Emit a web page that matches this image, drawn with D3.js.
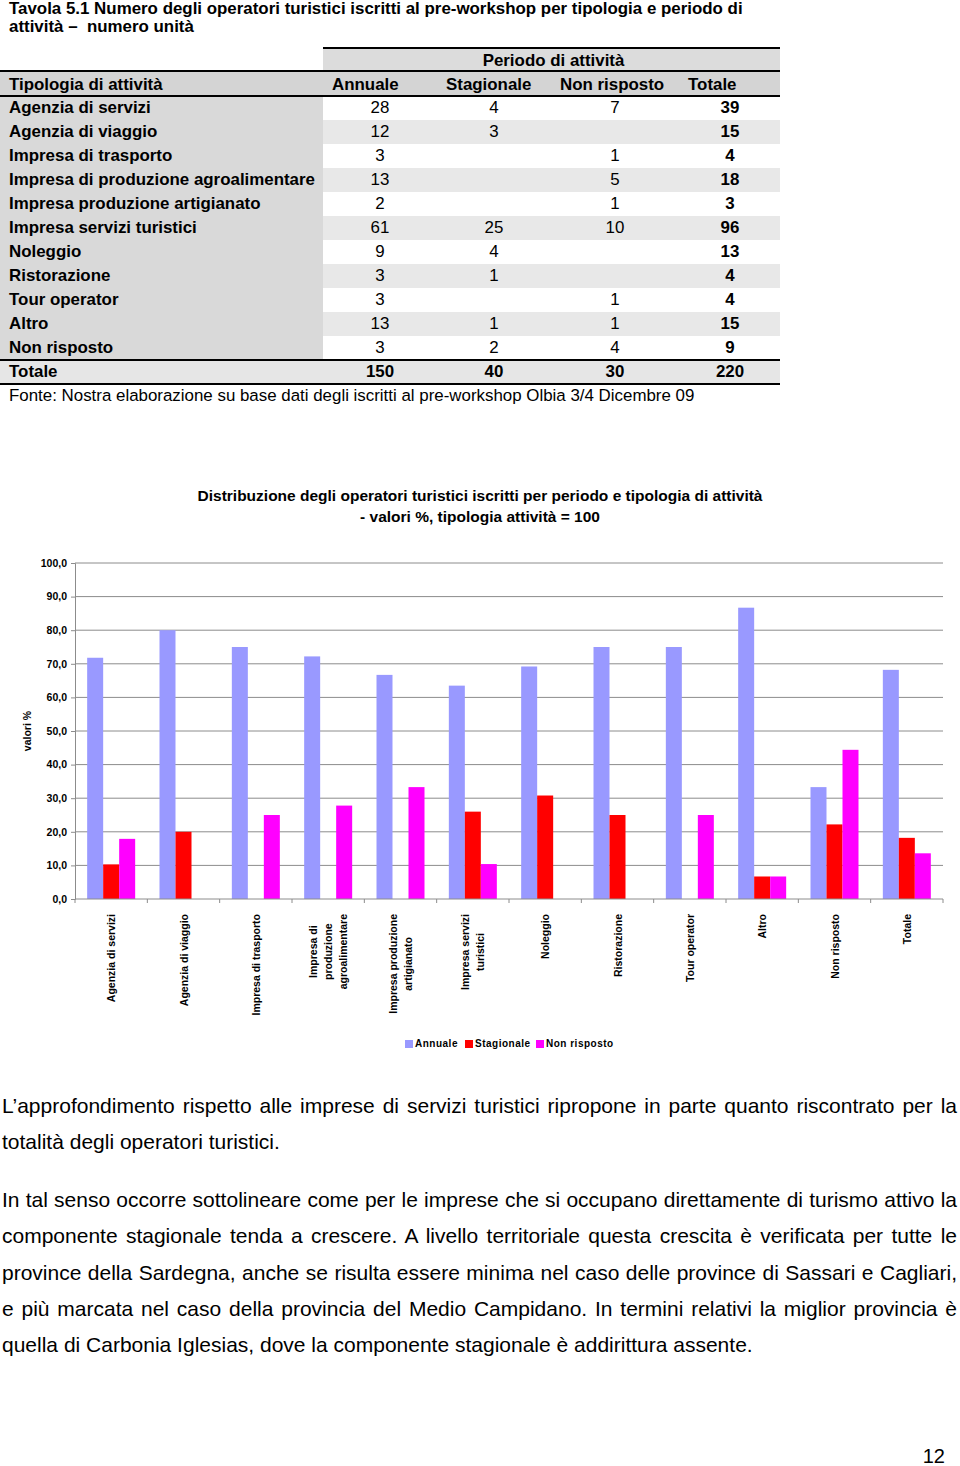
<!DOCTYPE html>
<html><head><meta charset="utf-8">
<script src="https://cdn.jsdelivr.net/npm/d3@7"></script>
<style>
html,body{margin:0;padding:0;background:#fff;}
svg{display:block;font-family:"Liberation Sans",Arial,sans-serif;}
</style></head>
<body>
<svg id="page" width="960" height="1466"></svg>
<script>
// ---------- Table data ----------
const tableTitle1 = "Tavola 5.1 Numero degli operatori turistici iscritti al pre-workshop per tipologia e periodo di";
const tableTitle2 = "attività –  numero unità";
const tableColumns = ["Annuale", "Stagionale", "Non risposto", "Totale"];
const tableCategories = ["Agenzia di servizi","Agenzia di viaggio","Impresa di trasporto","Impresa di produzione agroalimentare","Impresa produzione artigianato","Impresa servizi turistici","Noleggio","Ristorazione","Tour operator","Altro","Non risposto"];
const tabAnnuale = [28,12,3,13,2,61,9,3,3,13,3];
const tabStagionale = [4,3,null,null,null,25,4,1,null,1,2];
const tabNonRisposto = [7,null,1,5,1,10,null,null,1,1,4];
const tabTotale = [39,15,4,18,3,96,13,4,4,15,9];
const tabTotaliRiga = [150,40,30,220];
const fonte = "Fonte: Nostra elaborazione su base dati degli iscritti al pre-workshop Olbia 3/4 Dicembre 09";

// ---------- Chart data (valori %) ----------
const chartTitle1 = "Distribuzione degli operatori turistici iscritti per periodo e tipologia di attività";
const chartTitle2 = "- valori %, tipologia attività = 100";
const chartCategories = [["Agenzia di servizi"],["Agenzia di viaggio"],["Impresa di trasporto"],["Impresa di","produzione","agroalimentare"],["Impresa produzione","artigianato"],["Impresa servizi","turistici"],["Noleggio"],["Ristorazione"],["Tour operator"],["Altro"],["Non risposto"],["Totale"]];
const seriesNames = ["Annuale","Stagionale","Non risposto"];
const pctAnnuale = [71.8,80.0,75.0,72.2,66.7,63.5,69.2,75.0,75.0,86.7,33.3,68.2];
const pctStagionale = [10.3,20.0,0,0,0,26.0,30.8,25.0,0,6.7,22.2,18.2];
const pctNonRisposto = [17.9,0,25.0,27.8,33.3,10.4,0,0,25.0,6.7,44.4,13.6];
const yTicks = [0,10,20,30,40,50,60,70,80,90,100];
const seriesColors = ["#9999ff","#ff0000","#ff00ff"];

// ---------- Text ----------
const para1 = ["L’approfondimento rispetto alle imprese di servizi turistici ripropone in parte quanto riscontrato per la","totalità degli operatori turistici."];
const para2 = ["In tal senso occorre sottolineare come per le imprese che si occupano direttamente di turismo attivo la","componente stagionale tenda a crescere. A livello territoriale questa crescita è verificata per tutte le","province della Sardegna, anche se risulta essere minima nel caso delle province di Sassari e Cagliari,","e più marcata nel caso della provincia del Medio Campidano. In termini relativi la miglior provincia è","quella di Carbonia Iglesias, dove la componente stagionale è addirittura assente."];
const pageNumber = "12";

const svg = d3.select("#page");

// ===== Title =====
const tg = svg.append("g").attr("font-weight","bold").attr("font-size",16.9).attr("fill","#000");
tg.append("text").attr("x",9).attr("y",14).text(tableTitle1);
tg.append("text").attr("x",9).attr("y",32).attr("xml:space","preserve").text(tableTitle2);

// ===== Table =====
const FS = 16.9;
const tbl = svg.append("g");
const rowH = 24, firstRowTop = 96, tableRight = 780, labelColRight = 323;
const nRows = tableCategories.length;
const colX = d3.scaleOrdinal().domain(tableColumns).range([380,494,615,730]);
const headX = [332,446,560,688];
// backgrounds
tbl.append("rect").attr("x",labelColRight).attr("y",48).attr("width",tableRight-labelColRight).attr("height",23).attr("fill","#dcdcdc");
tbl.append("rect").attr("x",0).attr("y",71).attr("width",tableRight).attr("height",25).attr("fill","#d4d4d4");
tableCategories.forEach((c,i)=>{
  tbl.append("rect").attr("x",labelColRight).attr("y",firstRowTop+i*rowH).attr("width",tableRight-labelColRight).attr("height",rowH)
    .attr("fill", i%2===1 ? "#e8e8e8" : "#ffffff");
});
tbl.append("rect").attr("x",0).attr("y",firstRowTop).attr("width",labelColRight).attr("height",nRows*rowH).attr("fill","#d9d9d9");
const totTop = firstRowTop + nRows*rowH;
tbl.append("rect").attr("x",0).attr("y",totTop).attr("width",tableRight).attr("height",rowH).attr("fill","#e6e6e6");
// lines
const hl = (y,x1,x2)=>tbl.append("line").attr("x1",x1).attr("x2",x2).attr("y1",y).attr("y2",y).attr("stroke","#000").attr("stroke-width",2);
hl(48,labelColRight,tableRight); hl(71,0,tableRight); hl(96,0,tableRight); hl(totTop,0,tableRight); hl(totTop+rowH,0,tableRight);
// header texts
tbl.append("text").attr("x",(labelColRight+tableRight)/2+2).attr("y",66).attr("text-anchor","middle")
  .attr("font-weight","bold").attr("font-size",FS).text("Periodo di attività");
tbl.append("text").attr("x",9).attr("y",90).attr("font-weight","bold").attr("font-size",FS).text("Tipologia di attività");
tableColumns.forEach((c,i)=>tbl.append("text").attr("x",headX[i]).attr("y",90).attr("font-weight","bold").attr("font-size",FS).text(c));
// rows
const cols = [tabAnnuale,tabStagionale,tabNonRisposto,tabTotale];
tableCategories.forEach((c,i)=>{
  const y = firstRowTop + i*rowH + 17;
  tbl.append("text").attr("x",9).attr("y",y).attr("font-weight","bold").attr("font-size",FS).text(c);
  cols.forEach((arr,j)=>{
    if(arr[i]==null) return;
    tbl.append("text").attr("x",colX(tableColumns[j])).attr("y",y).attr("text-anchor","middle")
      .attr("font-size",FS).attr("font-weight", j===3?"bold":"normal").text(arr[i]);
  });
});
tbl.append("text").attr("x",9).attr("y",totTop+17).attr("font-weight","bold").attr("font-size",FS).text("Totale");
tabTotaliRiga.forEach((v,j)=>tbl.append("text").attr("x",colX(tableColumns[j])).attr("y",totTop+17).attr("text-anchor","middle")
  .attr("font-weight","bold").attr("font-size",FS).text(v));
tbl.append("text").attr("x",9).attr("y",401).attr("font-size",FS).text(fonte);

// ===== Chart =====
const ch = svg.append("g");
ch.append("text").attr("x",480).attr("y",501).attr("text-anchor","middle").attr("font-weight","bold").attr("font-size",15.5).text(chartTitle1);
ch.append("text").attr("x",480).attr("y",522).attr("text-anchor","middle").attr("font-weight","bold").attr("font-size",15.5).text(chartTitle2);

const plotL = 75, plotR = 943, plotT = 563, plotB = 899;
const y = d3.scaleLinear().domain([0,100]).range([plotB,plotT]);
const x0 = d3.scaleBand().domain(d3.range(chartCategories.length)).range([plotL,plotR]).paddingInner(0.3364).paddingOuter(0.1682);
const x1 = d3.scaleBand().domain(seriesNames).range([0,x0.bandwidth()]);
const fmt = v => d3.format(".1f")(v).replace(".",",");

// gridlines
ch.append("g").selectAll("line").data(yTicks.filter(t=>t>0)).join("line")
  .attr("x1",plotL).attr("x2",plotR).attr("y1",d=>y(d)).attr("y2",d=>y(d)).attr("stroke","#8c8c8c").attr("stroke-width",1);

// y axis
const yAxis = ch.append("g").attr("transform",`translate(${plotL},0)`)
  .call(d3.axisLeft(y).tickValues(yTicks).tickSize(4).tickFormat(fmt));
yAxis.select(".domain").attr("stroke","#8c8c8c");
yAxis.selectAll(".tick line").attr("stroke","#8c8c8c");
yAxis.selectAll(".tick text").attr("font-family","'Liberation Sans',Arial,sans-serif").attr("font-weight","bold")
  .attr("font-size",10.5).attr("fill","#000").attr("x",-8);

ch.append("text").attr("transform",`translate(31,731) rotate(-90)`).attr("text-anchor","middle")
  .attr("font-weight","bold").attr("font-size",10.5).text("valori %");

// bars
const seriesData = [pctAnnuale,pctStagionale,pctNonRisposto];
const groups = ch.append("g").selectAll("g").data(chartCategories.map((c,i)=>i)).join("g")
  .attr("transform",i=>`translate(${x0(i)},0)`);
groups.selectAll("rect").data(i=>seriesNames.map((s,k)=>({s,k,v:seriesData[k][i]}))).join("rect")
  .attr("x",d=>x1(d.s)).attr("width",x1.bandwidth())
  .attr("y",d=>y(d.v)).attr("height",d=>plotB-y(d.v)).attr("fill",d=>seriesColors[d.k]);

// x axis line and ticks
ch.append("line").attr("x1",plotL).attr("x2",plotR).attr("y1",plotB).attr("y2",plotB).attr("stroke","#8c8c8c");
const step = x0.step();
ch.append("g").selectAll("line").data(d3.range(chartCategories.length+1)).join("line")
  .attr("x1",i=>plotL+i*step).attr("x2",i=>plotL+i*step).attr("y1",plotB).attr("y2",plotB+4).attr("stroke","#8c8c8c");

// category labels
const lblG = ch.append("g").attr("font-weight","bold").attr("font-size",10.5);
chartCategories.forEach((lines,i)=>{
  const cx = x0(i) + x0.bandwidth()/2;
  const tmp = lines.map(l=>{ const t=lblG.append("text").text(l); const w=t.node().getComputedTextLength(); t.remove(); return w; });
  const maxW = d3.max(tmp);
  const top = 914;
  const n = lines.length;
  lines.forEach((l,k)=>{
    const lx = cx + (k-(n-1)/2)*15 + 4;
    lblG.append("text").attr("transform",`translate(${lx},${top+maxW/2}) rotate(-90)`).attr("text-anchor","middle").text(l);
  });
});

// legend
const legG = ch.append("g").attr("font-weight","bold").attr("font-size",10).attr("letter-spacing",0.5);
const legX = [405,465,536];
seriesNames.forEach((s,k)=>{
  legG.append("rect").attr("x",legX[k]).attr("y",1040).attr("width",8).attr("height",8).attr("fill",seriesColors[k]);
  legG.append("text").attr("x",legX[k]+10).attr("y",1047).text(s);
});

// ===== Paragraphs =====
const pg = svg.append("g").attr("font-size",21).attr("fill","#000");
function drawPara(lines, y0){
  lines.forEach((l,i)=>{
    const t = pg.append("text").attr("x",2).attr("y",y0+i*36.3).text(l);
    if(i<lines.length-1){
      const w = t.node().getComputedTextLength();
      const spaces = (l.match(/ /g)||[]).length;
      if(spaces>0) t.attr("word-spacing",(955-w)/spaces);
    }
  });
}
drawPara(para1,1113);
drawPara(para2,1207);

svg.append("text").attr("x",945).attr("y",1463).attr("text-anchor","end").attr("font-size",20).text(pageNumber);
</script>
</body></html>
